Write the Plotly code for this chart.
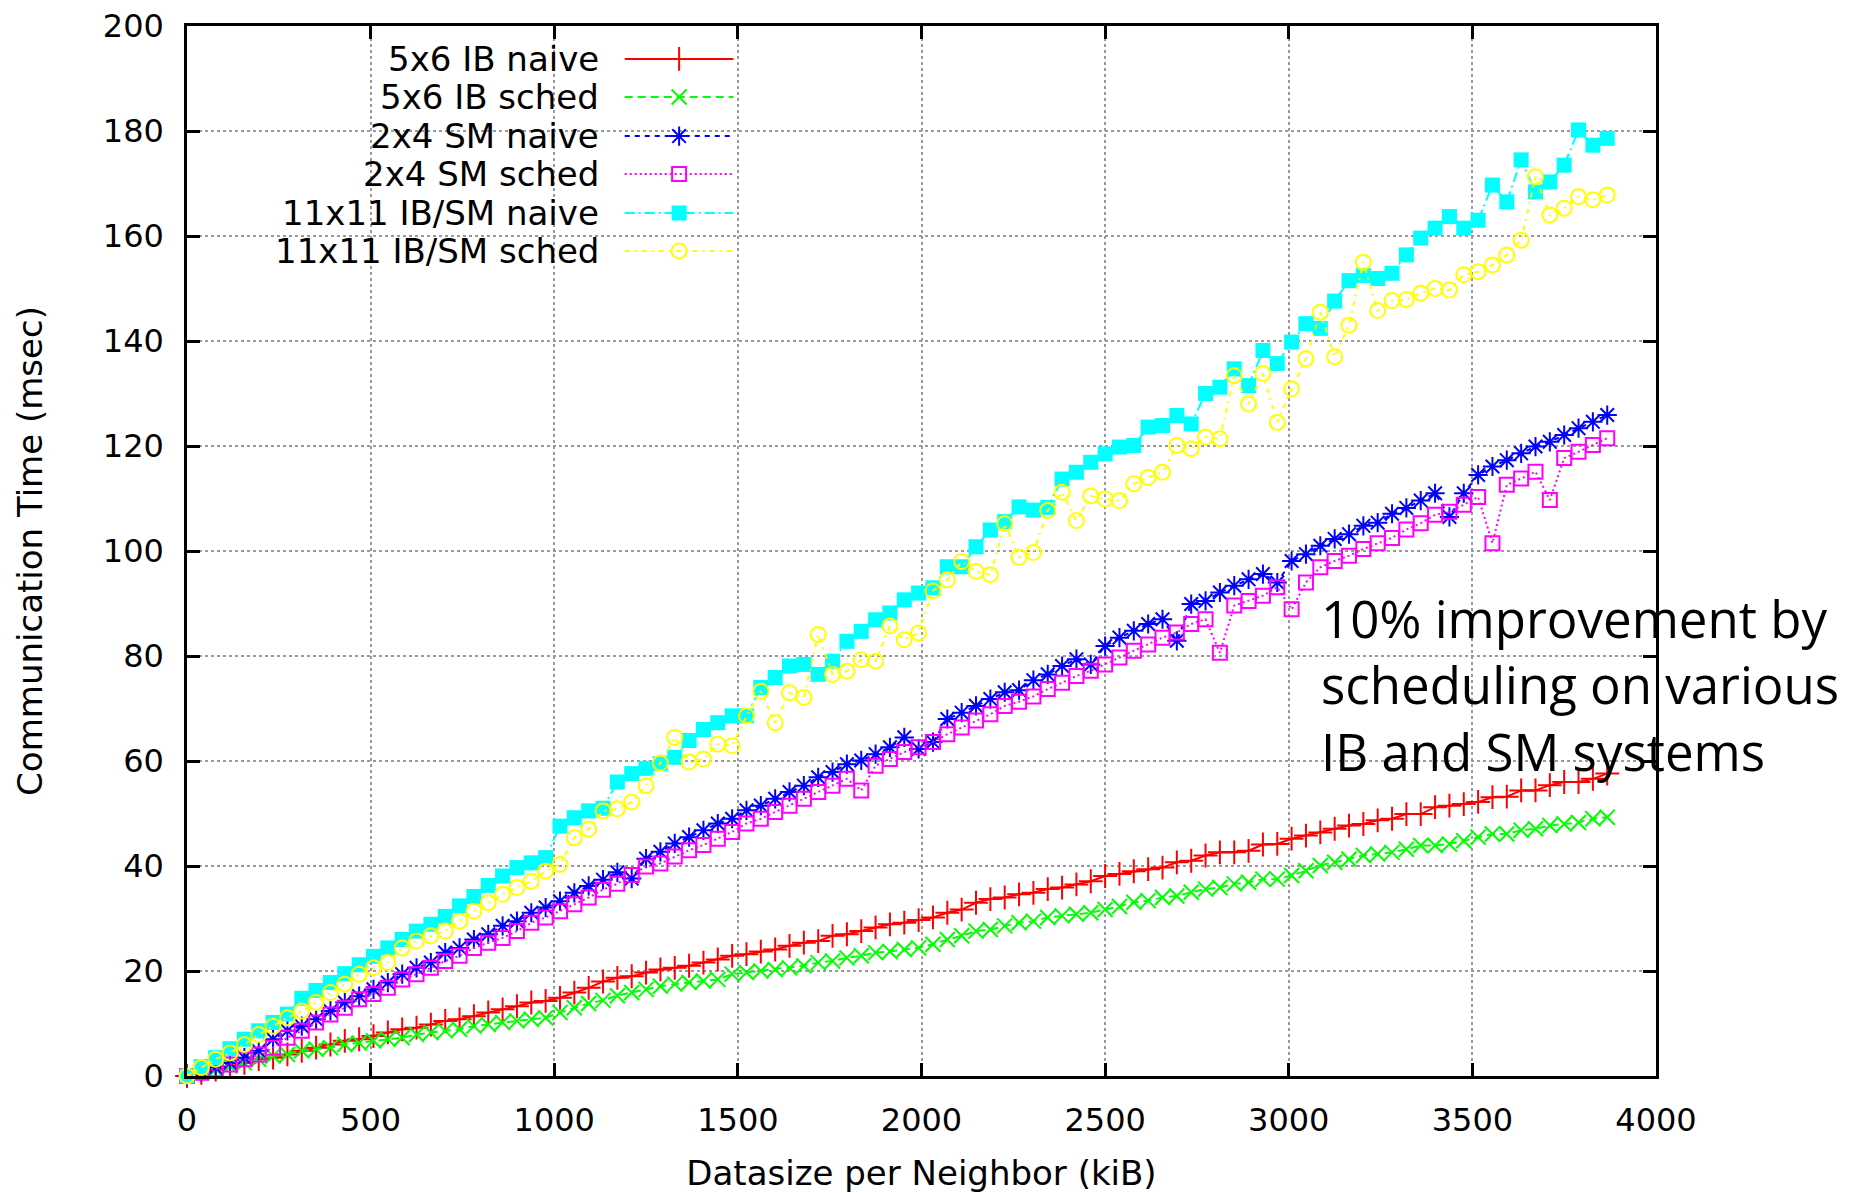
import plotly.graph_objects as go

# ---------------- data ----------------
STEP_KIB = 40 * 1000 / 1024  # 40 kB steps expressed in kiB
X = [round(i * STEP_KIB, 3) for i in range(100)]

ib_naive = [0, 0.6, 1.2, 1.8, 2.5, 3.2, 3.5, 4.1, 4.8, 5.4,
            6.0, 6.7, 7.0, 7.6, 8.3, 8.9, 9.2, 9.8, 10.5, 10.8,
            11.4, 12.1, 12.7, 13.3, 14.0, 14.3, 14.9, 15.9, 16.8, 18.0,
            18.7, 19.0, 19.7, 20.3, 20.6, 21.0, 21.6, 22.2, 22.9, 23.2,
            23.7, 24.1, 24.8, 25.4, 25.7, 26.7, 27.0, 27.6, 28.3, 28.9,
            29.2, 29.7, 30.2, 31.1, 31.7, 33.0, 33.7, 34.0, 34.6, 34.9,
            35.6, 35.9, 36.5, 37.1, 38.1, 38.5, 39.0, 39.4, 39.7, 40.7,
            41.0, 42.0, 42.6, 42.6, 42.9, 44.1, 44.2, 45.2, 45.8, 46.4,
            47.1, 47.7, 48.0, 48.7, 49.0, 49.9, 49.9, 51.2, 51.5, 51.8,
            52.2, 53.1, 53.2, 54.4, 54.4, 55.4, 56.0, 56.0, 56.6, 57.6]

ib_sched = [0, 0.6, 1.3, 1.9, 2.5, 3.2, 3.8, 4.1, 4.8, 5.1,
            5.4, 6.0, 6.3, 6.7, 7.0, 7.3, 7.9, 8.3, 8.6, 8.9,
            9.5, 9.8, 10.2, 10.5, 10.8, 11.1, 12.1, 13.0, 13.8, 14.4,
            15.3, 15.9, 16.5, 17.1, 17.5, 17.8, 18.1, 18.4, 19.4, 19.7,
            20.0, 20.3, 20.6, 21.0, 21.6, 21.9, 22.5, 22.9, 23.5, 23.7,
            24.1, 24.4, 25.1, 26.0, 26.7, 27.6, 27.9, 28.6, 29.2, 29.5,
            30.2, 30.5, 30.8, 31.1, 31.7, 32.3, 33.1, 33.4, 34.0, 34.3,
            35.0, 35.6, 35.9, 36.6, 36.9, 37.5, 37.5, 38.2, 39.1, 40.1,
            40.7, 41.3, 42.0, 42.3, 42.6, 43.2, 43.9, 43.9, 44.2, 44.8,
            45.5, 46.1, 46.1, 46.8, 47.1, 47.7, 48.0, 48.3, 49.0, 49.3]

sm_naive = [0, 0.8, 1.6, 2.5, 3.5, 4.8, 7.0, 8.6, 9.5, 10.8,
            12.4, 14.0, 15.2, 16.5, 17.8, 19.4, 20.6, 21.6, 23.5, 24.4,
            26.0, 27.0, 28.6, 29.5, 31.1, 32.1, 33.3, 34.9, 36.2, 37.4,
            38.8, 37.6, 41.4, 42.7, 44.3, 45.5, 46.8, 48.1, 49.0, 50.6,
            51.5, 52.8, 54.1, 55.3, 56.9, 57.9, 59.4, 60.1, 61.3, 62.6,
            64.5, 62.3, 63.6, 68.0, 69.2, 70.5, 71.8, 73.1, 73.5, 75.4,
            76.5, 78.1, 79.4, 78.4, 81.9, 83.5, 84.8, 86.1, 87.0, 82.9,
            89.9, 90.5, 92.1, 93.4, 94.6, 95.6, 94.0, 98.1, 99.4, 101.0,
            102.3, 103.2, 104.8, 105.4, 107.1, 108.2, 109.6, 111.0, 106.5, 111.0,
            114.5, 116.1, 117.3, 118.6, 119.9, 120.8, 122.1, 123.4, 124.6, 125.9]

sm_sched = [0, 0.6, 1.3, 2.2, 3.2, 4.1, 5.4, 7.3, 8.6, 10.2,
            11.7, 13.0, 14.6, 15.6, 16.8, 18.4, 19.4, 20.6, 21.9, 22.9,
            24.4, 25.4, 26.3, 27.6, 29.2, 30.2, 31.4, 32.7, 34.0, 35.5,
            36.6, 38.3, 39.9, 40.5, 41.8, 43.0, 44.0, 45.2, 46.5, 48.1,
            49.0, 50.3, 51.5, 52.8, 54.1, 55.3, 56.6, 54.4, 59.1, 60.4,
            61.7, 62.6, 63.6, 65.1, 66.4, 67.7, 68.9, 70.5, 71.3, 72.3,
            73.7, 74.9, 76.2, 77.2, 78.4, 79.7, 81.0, 82.2, 83.5, 84.5,
            86.1, 87.0, 80.6, 89.6, 90.5, 91.5, 93.1, 88.9, 94.0, 96.9,
            98.1, 99.1, 100.4, 101.5, 102.5, 104.1, 105.3, 106.9, 107.5, 108.8,
            110.3, 101.5, 112.6, 113.8, 115.1, 109.7, 117.7, 118.9, 120.2, 121.5]

ibsm_naive = [0, 1.8, 3.5, 5.2, 7.0, 8.6, 10.2, 11.8, 14.8, 16.3,
              17.8, 19.5, 21.2, 22.8, 24.4, 26.0, 27.6, 28.9, 30.4, 32.4,
              34.2, 36.3, 38.1, 39.7, 40.6, 41.6, 47.6, 49.2, 50.5, 51.0,
              56.0, 57.6, 58.6, 59.5, 60.7, 63.9, 66.0, 67.3, 68.6, 68.6,
              74.0, 75.9, 78.1, 78.4, 76.5, 79.0, 82.8, 84.7, 86.9, 88.2,
              90.7, 92.0, 93.0, 97.0, 97.0, 100.8, 104.0, 105.6, 108.4, 107.8,
              108.3, 113.7, 115.0, 116.9, 118.5, 119.8, 120.1, 123.6, 123.9, 125.8,
              124.2, 130.0, 131.2, 134.7, 131.5, 138.2, 135.7, 139.8, 143.3, 142.4,
              147.6, 151.5, 152.5, 151.9, 152.9, 156.4, 159.6, 161.5, 163.7, 161.5,
              163.0, 169.7, 166.5, 174.5, 168.4, 170.3, 173.5, 180.2, 177.3, 178.6]

ibsm_sched = [0, 1.6, 3.2, 4.4, 6.0, 7.9, 9.5, 11.1, 12.4, 14.0,
              15.9, 17.5, 19.4, 20.6, 21.6, 24.4, 25.7, 26.7, 27.6, 29.5,
              31.4, 33.0, 34.6, 35.9, 37.1, 39.0, 40.3, 45.4, 47.0, 50.5,
              50.9, 52.2, 55.3, 59.6, 64.5, 59.8, 60.4, 63.2, 62.9, 68.6,
              73.3, 67.3, 73.0, 72.1, 84.1, 76.5, 77.1, 79.3, 79.0, 85.7,
              83.1, 84.4, 92.4, 94.5, 98.0, 96.1, 95.5, 105.2, 98.8, 99.7,
              107.7, 111.2, 105.8, 110.5, 109.9, 109.6, 112.8, 114.0, 115.0, 120.1,
              119.5, 121.7, 121.4, 133.4, 128.0, 133.8, 124.5, 130.9, 136.6, 145.5,
              137.0, 143.0, 155.0, 145.8, 147.7, 147.9, 149.1, 150.0, 149.7, 152.6,
              153.2, 154.5, 156.4, 159.2, 171.3, 164.0, 165.3, 167.5, 166.9, 167.8]

NAMES = ["5x6 IB naive", "5x6 IB sched", "2x4 SM naive", "2x4 SM sched",
         "11x11 IB/SM naive", "11x11 IB/SM sched"]
SERIES = [ib_naive, ib_sched, sm_naive, sm_sched, ibsm_naive, ibsm_sched]

X_TICKS = [0, 500, 1000, 1500, 2000, 2500, 3000, 3500, 4000]
Y_TICKS = [0, 20, 40, 60, 80, 100, 120, 140, 160, 180, 200]

NOTE = "10% improvement by<br>scheduling on various<br>IB and SM systems"

# ---------------- styles ----------------
STYLES = [
    dict(color="#ff0000", dash="solid", symbol="cross-thin", size=17, filled=False),
    dict(color="#00ff00", dash="8px,5px", symbol="x-thin", size=15, filled=False),
    dict(color="#0000ff", dash="5px,5px", symbol="asterisk", size=16, filled=False),
    dict(color="#ff00ff", dash="2px,3px", symbol="square-open", size=14, filled=False),
    dict(color="#00ffff", dash="10px,4px,2px,4px", symbol="square", size=15, filled=True),
    dict(color="#ffff00", dash="5px,5px,2px,5px", symbol="circle-open", size=15, filled=False),
]

LEGEND_FONT = dict(family="DejaVu Sans", size=34, color="#000000")
TICK_FONT = dict(family="DejaVu Sans", size=32, color="#000000")
TITLE_FONT = dict(family="DejaVu Sans", size=34, color="#000000")

fig = go.Figure()


def marker_for(st):
    return dict(symbol=st["symbol"], size=st["size"], color=st["color"],
                line=dict(color=st["color"], width=0 if st["filled"] else 2))


for name, ys, st in zip(NAMES, SERIES, STYLES):
    fig.add_trace(go.Scatter(
        x=X, y=ys, name=name, mode="lines+markers",
        line=dict(color=st["color"], width=2, dash=st["dash"]),
        marker=marker_for(st), cliponaxis=False, showlegend=False,
    ))

# ---- gnuplot-style key: text right-aligned, sample to its right ----
ROW_Y = [0.9686, 0.9324, 0.8952, 0.8590, 0.8219, 0.7857]
SAMPLE_X = [0.298, 0.335, 0.372]
TEXT_X = 0.2818
for name, st, ry in zip(NAMES, STYLES, ROW_Y):
    fig.add_trace(go.Scatter(
        x=SAMPLE_X, y=[ry] * 3, xaxis="x2", yaxis="y2", mode="lines+markers",
        line=dict(color=st["color"], width=2, dash=st["dash"]),
        marker=dict(marker_for(st), opacity=[0, 1, 0]),
        cliponaxis=False, showlegend=False, hoverinfo="skip",
    ))
    fig.add_annotation(xref="paper", yref="paper", x=TEXT_X, y=ry,
                       xanchor="right", yanchor="middle", text=name,
                       showarrow=False, font=LEGEND_FONT)

# opaque key background (hides grid behind key)
fig.add_shape(type="rect", xref="paper", yref="paper", x0=0.009, x1=0.383,
              y0=0.771, y1=0.999, fillcolor="white", line=dict(width=0),
              layer="between")

fig.add_annotation(xref="paper", yref="paper", x=0.7706, y=0.373,
                   xanchor="left", yanchor="middle", align="left",
                   text=NOTE, showarrow=False,
                   font=dict(family="Open Sans", size=51, color="#000000"))

axis_common = dict(
    showline=True, linecolor="#000000", linewidth=2.5, mirror="ticks",
    ticks="inside", ticklen=13, tickwidth=2.5, tickcolor="#000000",
    showgrid=True, gridcolor="#9a9a9a", gridwidth=1.5, griddash="dot",
    zeroline=False, tickfont=TICK_FONT, ticklabelstandoff=14,
    automargin=False,
)

fig.update_layout(
    width=1860, height=1193,
    margin=dict(l=187, r=204, t=26, b=117, autoexpand=False),
    paper_bgcolor="white", plot_bgcolor="white",
    showlegend=False,
    xaxis=dict(axis_common, range=[0, 4000], tickvals=X_TICKS,
               ticktext=[str(v) for v in X_TICKS],
               title=dict(text="Datasize per Neighbor (kiB)", font=TITLE_FONT, standoff=24)),
    yaxis=dict(axis_common, range=[0, 200], tickvals=Y_TICKS,
               ticktext=[str(v) for v in Y_TICKS],
               title=dict(text="Communication Time (msec)", font=TITLE_FONT, standoff=50)),
    xaxis2=dict(overlaying="x", range=[0, 1], visible=False, fixedrange=True),
    yaxis2=dict(overlaying="y", range=[0, 1], visible=False, fixedrange=True),
)

fig.write_html("out.html")
